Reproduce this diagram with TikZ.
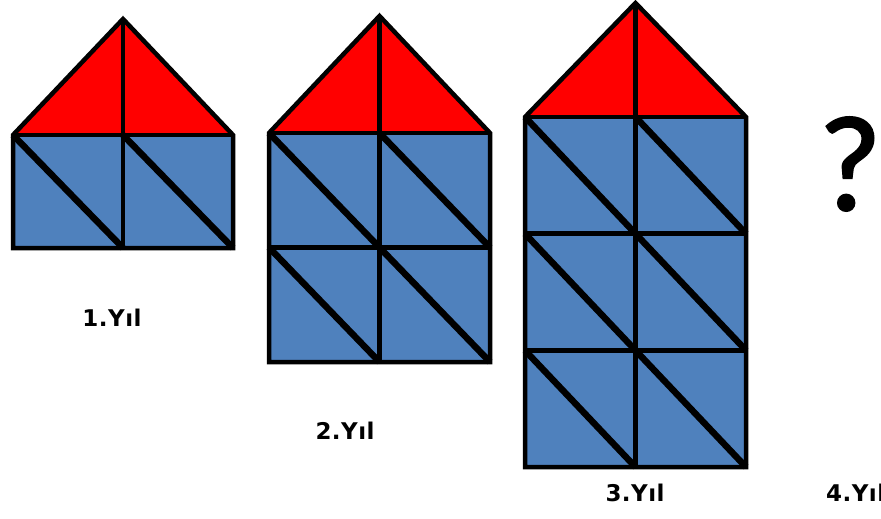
\documentclass[tikz,border=0pt]{standalone}
\usepackage{fontspec}
\newfontfamily\labelfont[LetterSpace=2]{DejaVu Sans}
\newfontfamily\markfont[FakeBold=1.6]{Carlito}
\usetikzlibrary{positioning}
\definecolor{roofred}{HTML}{FF0000}
\definecolor{wallblue}{HTML}{4F81BD}

\begin{document}
\begin{tikzpicture}[
    x=1pt, y=-1pt,
    outline/.style={draw=black, line width=4.5pt, line join=miter},
    diag/.style={draw=black, line width=6.5pt},
    yearlabel/.style={font=\labelfont\bfseries\fontsize{23}{23}\selectfont, inner sep=0pt}
]
\useasboundingbox (0,0) rectangle (881,519);
% left / right / base / apex / rows / row height
\foreach \l/\r/\b/\a/\n/\h in {13/233/135/19/1/113, 269/490/133/16/2/114.5, 525/746/117/3/3/116.7}{
  \pgfmathsetmacro{\m}{(\l+\r)/2}
  \pgfmathsetmacro{\e}{\b+\n*\h}
  \fill[wallblue] (\l,\b) rectangle (\r,\e);
  \fill[roofred] (\l,\b) -- (\m,\a) -- (\r,\b) -- cycle;
  \foreach \k in {1,...,\n}{
    \pgfmathsetmacro{\t}{\b+(\k-1)*\h}
    \pgfmathsetmacro{\u}{\b+\k*\h}
    \draw[diag] (\l,\t) -- (\m,\u);
    \draw[diag] (\m,\t) -- (\r,\u);
    \draw[outline] (\l,\u) -- (\r,\u);
  }
  \draw[outline] (\m,\a) -- (\m,\e);
  \draw[outline] (\l,\b) -- (\r,\b);
  \draw[outline] (\l,\b) -- (\m,\a) -- (\r,\b) -- (\r,\e) -- (\l,\e) -- cycle;
}
\node[font=\markfont\fontsize{136}{136}\selectfont, inner sep=0pt] (mark) at (850,164) {?};
\node[yearlabel] (year1) at (112,318) {1.Yıl};
\node[yearlabel] (year2) at (345,431) {2.Yıl};
\node[yearlabel] (year3) at (635,493) {3.Yıl};
\node[yearlabel, anchor=west] (year4) at (826,493) {4.Yıl};
\end{tikzpicture}
\end{document}
